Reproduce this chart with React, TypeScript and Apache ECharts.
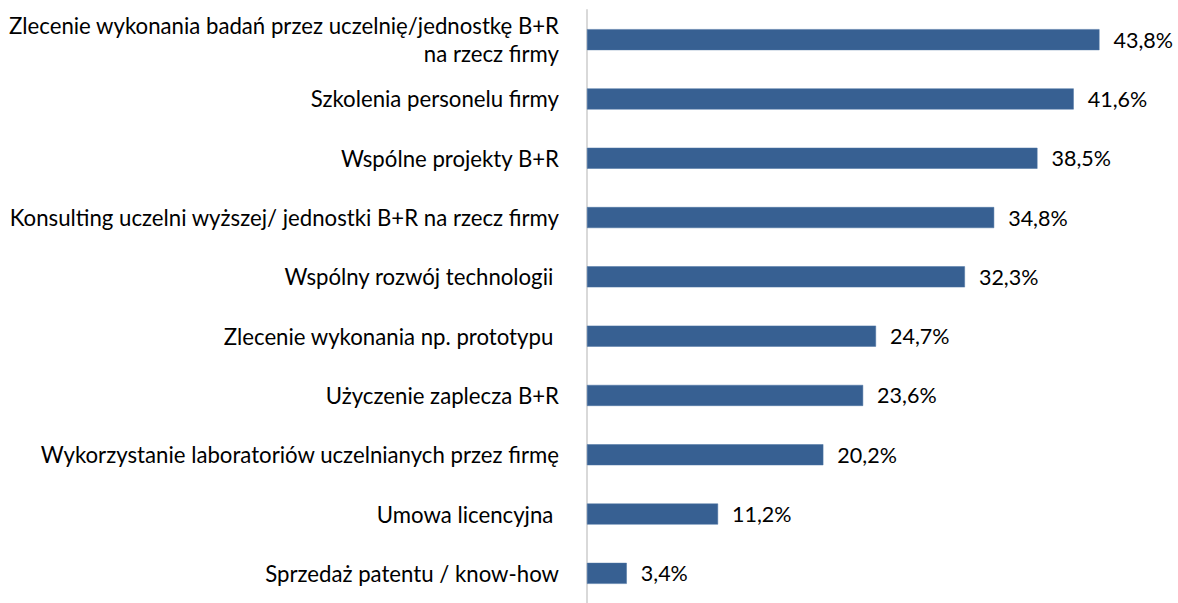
import React, { useEffect, useRef } from "react";
import * as echarts from "echarts";

const categories = [
  "Zlecenie wykonania badań przez uczelnię/jednostkę B+R\nna rzecz firmy",
  "Szkolenia personelu firmy",
  "Wspólne projekty B+R",
  "Konsulting uczelni wyższej/ jednostki B+R na rzecz firmy",
  "Wspólny rozwój technologii ",
  "Zlecenie wykonania np. prototypu ",
  "Użyczenie zaplecza B+R",
  "Wykorzystanie laboratoriów uczelnianych przez firmę",
  "Umowa licencyjna ",
  "Sprzedaż patentu / know-how",
];
const values = [43.8, 41.6, 38.5, 34.8, 32.3, 24.7, 23.6, 20.2, 11.2, 3.4];

export default function App() {
  const ref = useRef<HTMLDivElement>(null);
  useEffect(() => {
    if (!ref.current) return;
    const chart = echarts.init(ref.current, null, { renderer: "svg" });
    const font = "Lato, 'Liberation Sans', sans-serif";
    chart.setOption({
      animation: false,
      grid: { left: 587, right: 6, top: 10, height: 600, containLabel: false },
      xAxis: {
        type: "value",
        min: 0,
        max: 50,
        show: false,
      },
      yAxis: {
        type: "category",
        inverse: true,
        data: categories,
        axisLine: { show: true, lineStyle: { color: "#d9d9d9", width: 2 } },
        axisTick: { show: false },
        axisLabel: {
          margin: 28,
          color: "#000",
          fontSize: 22.2,
          fontFamily: font,
          align: "right",
          lineHeight: 28,
        },
      },
      series: [
        {
          type: "bar",
          data: values,
          barWidth: 21,
          itemStyle: { color: "#376092", borderColor: "#4a72a3", borderWidth: 0.5 },
          label: {
            show: true,
            position: "right",
            distance: 14,
            color: "#000",
            fontSize: 21.5,
            fontFamily: font,
            formatter: (p: any) => p.value.toFixed(1).replace(".", ",") + "%",
          },
        },
      ],
    });
    return () => chart.dispose();
  }, []);
  return (
    <div
      ref={ref}
      style={{ position: "absolute", left: 0, top: 0, width: 1178, height: 603, background: "#fff" }}
    />
  );
}
